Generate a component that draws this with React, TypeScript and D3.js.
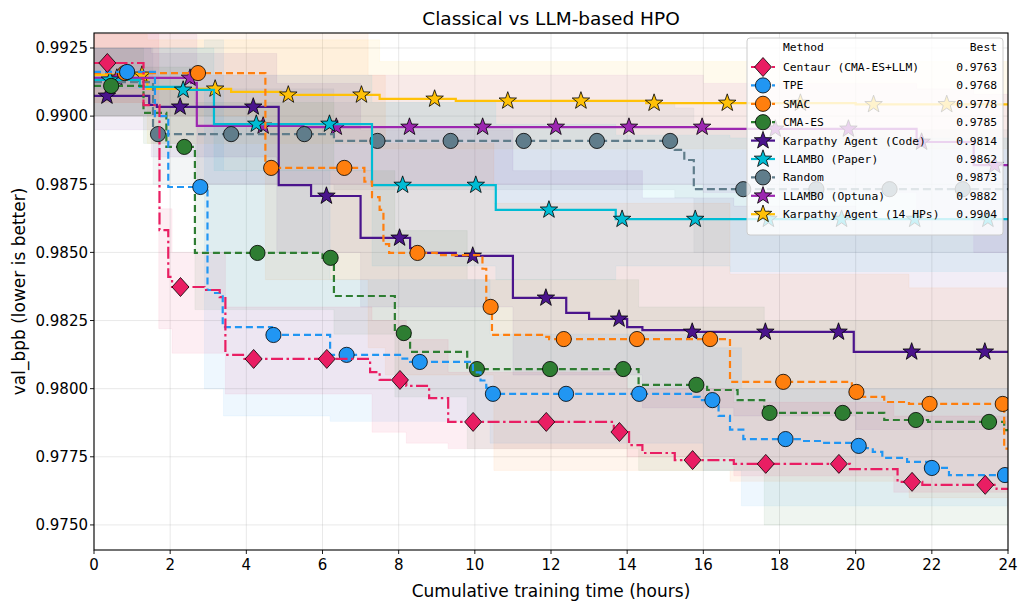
import * as d3 from 'd3';

const W = 1028;
const H = 610;
const [pl, pr, pt, pb] = [94, 1008, 33, 550];

// step breakpoints (hours) and best-so-far val_bpb
const centaurT = [0, 1.3, 1.72, 1.95, 2.05, 2.9, 3.3, 3.45, 3.95, 7.25, 7.5, 8.2, 8.8, 9.3, 13.65, 14.05, 14.4, 15.25, 16.8, 19.85, 21.1, 21.75, 23.7];
const centaurV = [0.99195, 0.9904, 0.98582, 0.9841, 0.98373, 0.98362, 0.98336, 0.98124, 0.98109, 0.98061, 0.98032, 0.9801, 0.97965, 0.97878, 0.97841, 0.97793, 0.97764, 0.97738, 0.97724, 0.97705, 0.97658, 0.97647, 0.97632];
const tpeT = [0, 1.6, 1.95, 2.98, 3.15, 3.38, 4.67, 6.2, 8.1, 8.3, 9.95, 10.15, 10.3, 10.4, 15.75, 15.9, 16.4, 16.7, 17.05, 18.6, 19.06, 19.9, 20.15, 20.45, 20.7, 21.35, 22.0, 22.45];
const tpeV = [0.99162, 0.99, 0.9874, 0.98362, 0.98351, 0.98226, 0.98197, 0.98124, 0.9811, 0.98098, 0.9806, 0.9803, 0.98003, 0.97981, 0.9797, 0.97958, 0.979, 0.9785, 0.97815, 0.97808, 0.97801, 0.9779, 0.97782, 0.97768, 0.97746, 0.97731, 0.97709, 0.97683];
const smacT = [0, 4.5, 7.1, 7.3, 7.5, 7.6, 7.75, 9.0, 10.2, 10.3, 10.45, 11.8, 11.95, 16.7, 19.9, 20.15, 20.75, 21.4, 23.9];
const smacV = [0.99158, 0.9881, 0.9876, 0.98703, 0.98656, 0.9853, 0.98498, 0.9849, 0.9844, 0.983, 0.98197, 0.9819, 0.98182, 0.98025, 0.97988, 0.9797, 0.97951, 0.97944, 0.9778];
const cmaT = [0, 1.3, 1.9, 2.65, 6.0, 6.3, 7.9, 8.3, 9.8, 14.3, 16.1, 16.9, 17.6, 20.75, 21.9, 23.9];
const cmaV = [0.99111, 0.99012, 0.98887, 0.98498, 0.9848, 0.9834, 0.98204, 0.98135, 0.98072, 0.98014, 0.97995, 0.97958, 0.97911, 0.97885, 0.97878, 0.97848];
const kcodeT = [0, 1.45, 1.65, 4.85, 5.7, 7.0, 8.3, 8.45, 9.5, 11.0, 12.4, 13.0, 14.0, 14.4, 15.7, 19.95];
const kcodeV = [0.99074, 0.99041, 0.99034, 0.98747, 0.98707, 0.98553, 0.98516, 0.98498, 0.98487, 0.98333, 0.98278, 0.98256, 0.98226, 0.98215, 0.98208, 0.98135];
const lpaperT = [0, 1.2, 2.3, 3.15, 7.3, 10.55, 13.7];
const lpaperV = [0.99133, 0.99107, 0.99096, 0.98971, 0.98747, 0.98656, 0.98622];
const randomT = [0, 1.55, 6.3, 15.25, 15.5, 15.75];
const randomV = [0.99125, 0.98934, 0.98909, 0.98876, 0.98839, 0.98732];
const loptT = [0, 2.55, 2.7, 5.5, 16.0, 21.6, 23.1];
const loptV = [0.9914, 0.99122, 0.98964, 0.9896, 0.98953, 0.98905, 0.9882];
const k14T = [0, 1.4, 3.6, 4.9, 7.5, 9.5, 14.5, 20];
const k14V = [0.99151, 0.991, 0.99089, 0.99078, 0.99063, 0.99056, 0.99048, 0.99043];

// spread bands (step breakpoints, lower, upper)
const centaurBandT = [0, 1.7, 2.05, 3.45, 7.3, 8.2, 9.3, 14, 16.8, 21, 24];
const centaurLo = [0.9905, 0.9822, 0.9813, 0.9798, 0.9784, 0.978, 0.9778, 0.9775, 0.9768, 0.9762, 0.9756];
const centaurHi = [0.9931, 0.9866, 0.985, 0.983, 0.9825, 0.9818, 0.9806, 0.98, 0.9795, 0.979, 0.9788];
const tpeBandT = [0, 2.9, 3.4, 6.2, 10.4, 16, 17, 24];
const tpeLo = [0.991, 0.98, 0.979, 0.9788, 0.978, 0.977, 0.9757, 0.9752];
const tpeHi = [0.9925, 0.9928, 0.988, 0.984, 0.982, 0.9815, 0.98, 0.979];
const smacBandT = [0, 4.5, 7.2, 7.65, 10.5, 16.7, 21.4, 24];
const smacLo = [0.99, 0.984, 0.9815, 0.9805, 0.977, 0.9766, 0.976, 0.9755];
const smacHi = [0.9931, 0.9931, 0.9915, 0.989, 0.9868, 0.9842, 0.9837, 0.9835];
const cmaBandT = [0, 1.3, 2.65, 6.3, 7.9, 9.8, 14.3, 17.6, 24];
const cmaLo = [0.99, 0.989, 0.9829, 0.982, 0.9797, 0.9778, 0.977, 0.975, 0.9747];
const cmaHi = [0.9925, 0.9918, 0.9905, 0.988, 0.9858, 0.984, 0.983, 0.9825, 0.9822];
const kcodeBandT = [0, 1.5, 4.8, 7.0, 11.0, 14.4, 16.8, 20, 24];
const kcodeLo = [0.9895, 0.9885, 0.985, 0.983, 0.9805, 0.9793, 0.979, 0.9785, 0.9783];
const kcodeHi = [0.9925, 0.9923, 0.9912, 0.9895, 0.988, 0.987, 0.9867, 0.9862, 0.986];
const lpaperBandT = [0, 3.15, 7.3, 10.55, 13.7, 16.7, 24];
const lpaperLo = [0.99, 0.988, 0.9845, 0.984, 0.9845, 0.9843, 0.9843];
const lpaperHi = [0.9925, 0.9915, 0.9905, 0.9897, 0.9893, 0.9892, 0.989];
const randomBandT = [0, 1.55, 6.3, 15.25, 15.75, 24];
const randomLo = [0.99, 0.9875, 0.9873, 0.987, 0.985, 0.9848];
const randomHi = [0.9925, 0.991, 0.9905, 0.9903, 0.9895, 0.989];
const loptBandT = [0, 2.7, 16, 21.6, 23.1, 24];
const loptLo = [0.99, 0.9875, 0.9872, 0.9862, 0.985, 0.985];
const loptHi = [0.993, 0.9915, 0.9912, 0.991, 0.9908, 0.9908];
const k14BandT = [0, 1.4, 7.5, 24];
const k14Lo = [0.9905, 0.989, 0.9888, 0.9885];
const k14Hi = [0.993, 0.9928, 0.992, 0.9918];

const methods = ['Centaur (CMA-ES+LLM)', 'TPE', 'SMAC', 'CMA-ES', 'Karpathy Agent (Code)', 'LLAMBO (Paper)', 'Random', 'LLAMBO (Optuna)', 'Karpathy Agent (14 HPs)'];
const bests = ['0.9763', '0.9768', '0.9778', '0.9785', '0.9814', '0.9862', '0.9873', '0.9882', '0.9904'];
const colors = ['#e91e63', '#2196f3', '#ff7f0e', '#2e7d32', '#4a148c', '#00bcd4', '#607d8b', '#9c27b0', '#ffc107'];
const markers = ['diamond', 'circle', 'circle', 'circle', 'star', 'star', 'circle', 'star', 'star'];
const dashes = ['12,3.5,2.5,3.5', '7,4', '7,4', '7,4', '', '', '8,4', '', ''];
const markStart = [0.35, 0.87, 0.81, 0.45, 0.34, 0.42, 1.68, 0.6, 1.26];
const markGap = 1.921;

const xTicks = [0, 2, 4, 6, 8, 10, 12, 14, 16, 18, 20, 22, 24];
const yTicks = [0.975, 0.9775, 0.98, 0.9825, 0.985, 0.9875, 0.99, 0.9925];

const stepsT = [centaurT, tpeT, smacT, cmaT, kcodeT, lpaperT, randomT, loptT, k14T];
const stepsV = [centaurV, tpeV, smacV, cmaV, kcodeV, lpaperV, randomV, loptV, k14V];
const bandT = [centaurBandT, tpeBandT, smacBandT, cmaBandT, kcodeBandT, lpaperBandT, randomBandT, loptBandT, k14BandT];
const bandLo = [centaurLo, tpeLo, smacLo, cmaLo, kcodeLo, lpaperLo, randomLo, loptLo, k14Lo];
const bandHi = [centaurHi, tpeHi, smacHi, cmaHi, kcodeHi, lpaperHi, randomHi, loptHi, k14Hi];

const x = d3.scaleLinear().domain([0, 24]).range([pl, pr]);
const y = d3.scaleLinear().domain([0.97408, 0.99305]).range([pb, pt]);

type Pt = { t: number; v: number };

const line = d3
    .line<Pt>()
    .curve(d3.curveStepAfter)
    .x((d) => x(d.t))
    .y((d) => y(d.v));

type BPt = { t: number; lo: number; hi: number };
const area = d3
    .area<BPt>()
    .curve(d3.curveStepAfter)
    .x((d) => x(d.t))
    .y0((d) => y(d.lo))
    .y1((d) => y(d.hi));

function stepAt(ts: number[], vs: number[], t: number) {
    const i = d3.bisectRight(ts, t) - 1;
    return vs[Math.max(0, i)];
}

function starPath(r: number) {
    const pts: string[] = [];
    for (let i = 0; i < 10; i++) {
        const rr = i % 2 === 0 ? r : r * 0.4;
        const a = (Math.PI / 5) * i - Math.PI / 2;
        pts.push(`${(rr * Math.cos(a)).toFixed(2)},${(rr * Math.sin(a)).toFixed(2)}`);
    }
    return `M${pts.join('L')}Z`;
}

function Marker({ kind, cx, cy, fill }: { kind: string; cx: number; cy: number; fill: string }) {
    if (kind === 'circle') return <circle cx={cx} cy={cy} r={7.6} fill={fill} stroke="#000" strokeWidth={0.8} />;
    if (kind === 'diamond') return <path d="M0,-9.5L8.5,0L0,9.5L-8.5,0Z" transform={`translate(${cx},${cy})`} fill={fill} stroke="#000" strokeWidth={0.8} />;
    return <path d={starPath(9.2)} transform={`translate(${cx},${cy})`} fill={fill} stroke="#000" strokeWidth={0.8} />;
}

export default function App() {
    const order = d3.range(methods.length).reverse();
    const font = 'DejaVu Sans, sans-serif';
    const mono = 'DejaVu Sans Mono, monospace';
    const legX = 747;
    const legY = 38;
    const rowH = 18.4;

    return (
        <svg width={W} height={H} style={{ position: 'absolute', left: 0, top: 0, background: '#fff' }} fontFamily={font}>
            <defs>
                <clipPath id="plot">
                    <rect x={pl} y={pt} width={pr - pl} height={pb - pt} />
                </clipPath>
            </defs>
            <rect width={W} height={H} fill="#fff" />

            {/* grid */}
            <g stroke="#b0b0b0" strokeOpacity={0.35} strokeWidth={0.8}>
                {xTicks.map((t) => (
                    <line key={`gx${t}`} x1={x(t)} x2={x(t)} y1={pt} y2={pb} />
                ))}
                {yTicks.map((t) => (
                    <line key={`gy${t}`} x1={pl} x2={pr} y1={y(t)} y2={y(t)} />
                ))}
            </g>

            <g clipPath="url(#plot)">
                {/* bands */}
                {order.map((i) => {
                    const pts: BPt[] = bandT[i].map((t, j) => ({ t, lo: bandLo[i][j], hi: bandHi[i][j] }));
                    if (pts[pts.length - 1].t < 24) pts.push({ ...pts[pts.length - 1], t: 24 });
                    return <path key={`b${i}`} d={area(pts) || ''} fill={colors[i]} fillOpacity={0.075} stroke={colors[i]} strokeOpacity={0.05} />;
                })}

                {/* lines + markers */}
                {order.map((i) => {
                    const pts: Pt[] = stepsT[i].map((t, j) => ({ t, v: stepsV[i][j] }));
                    pts.push({ t: 24, v: pts[pts.length - 1].v });
                    const mts = d3.range(markStart[i], 24.05, markGap);
                    return (
                        <g key={`s${i}`}>
                            <path d={line(pts) || ''} fill="none" stroke={colors[i]} strokeWidth={2.2} strokeDasharray={dashes[i] || undefined} />
                            {mts.map((t) => (
                                <Marker key={t} kind={markers[i]} cx={x(t)} cy={y(stepAt(stepsT[i], stepsV[i], t))} fill={colors[i]} />
                            ))}
                        </g>
                    );
                })}
            </g>

            {/* frame */}
            <rect x={pl} y={pt} width={pr - pl} height={pb - pt} fill="none" stroke="#000" strokeWidth={1.1} />

            {/* x axis */}
            {xTicks.map((t) => (
                <g key={`xt${t}`} transform={`translate(${x(t)},${pb})`}>
                    <line y2={4} stroke="#000" strokeWidth={0.9} />
                    <text y={20} textAnchor="middle" fontSize={15} fill="#000">
                        {t}
                    </text>
                </g>
            ))}
            {/* y axis */}
            {yTicks.map((t) => (
                <g key={`yt${t}`} transform={`translate(${pl},${y(t)})`}>
                    <line x2={-4} stroke="#000" strokeWidth={0.9} />
                    <text x={-6} dy="0.35em" textAnchor="end" fontSize={15} fill="#000">
                        {d3.format('.4f')(t)}
                    </text>
                </g>
            ))}

            <text x={(pl + pr) / 2} y={25} textAnchor="middle" fontSize={18.5} fill="#000">
                Classical vs LLM-based HPO
            </text>
            <text x={(pl + pr) / 2} y={597} textAnchor="middle" fontSize={17} fill="#000">
                Cumulative training time (hours)
            </text>
            <text transform={`translate(25,${(pt + pb) / 2}) rotate(-90)`} textAnchor="middle" fontSize={17} fill="#000">
                val_bpb (lower is better)
            </text>

            {/* legend */}
            <g fontFamily={mono} fontSize={11.3}>
                <rect x={legX} y={legY} width={256} height={197} rx={3} fill="#fff" fillOpacity={0.8} stroke="#cccccc" strokeWidth={1} />
                <text x={783} y={legY + 13} fill="#000">
                    Method
                </text>
                <text x={997} y={legY + 13} textAnchor="end" fill="#000">
                    Best
                </text>
                {methods.map((m, i) => {
                    const cy = legY + 29 + i * rowH;
                    return (
                        <g key={m}>
                            <line x1={751} x2={775} y1={cy} y2={cy} stroke={colors[i]} strokeWidth={2.2} strokeDasharray={dashes[i] ? '5,2' : undefined} />
                            <Marker kind={markers[i]} cx={763} cy={cy} fill={colors[i]} />
                            <text x={783} y={cy} dy="0.35em" fill="#000">
                                {m}
                            </text>
                            <text x={997} y={cy} dy="0.35em" textAnchor="end" fill="#000">
                                {bests[i]}
                            </text>
                        </g>
                    );
                })}
            </g>
        </svg>
    );
}
